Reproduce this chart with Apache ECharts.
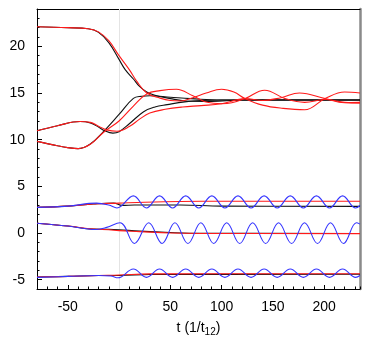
<!DOCTYPE html>
<html lang="en">
<head>
    <meta charset="UTF-8">
    <title>t (1/t12)</title>
    <script src="https://cdn.jsdelivr.net/npm/echarts@6/dist/echarts.min.js"></script>
</head>
<body style="margin:0">
<div id="main" style="width:374px;height:343px;"></div>
<script>
    // tick labels
    var xTicks = [-50, 0, 50, 100, 150, 200];
    var yTicks = [-5, 0, 5, 10, 15, 20];

    // upper group: black / red pairs, [t, value]
    var black1 = [[-80, 22.1], [-50, 22.0], [-30, 21.88], [-20, 21.5], [-10, 20.4], [0, 18.6], [6, 17.5], [14, 16.5], [20, 15.7], [27, 15.1], [35, 14.75], [50, 14.4], [65, 14.15], [90, 14.1], [120, 14.25], [235, 14.25]];
    var red1 = [[-80, 22.1], [-50, 22.0], [-30, 21.88], [-20, 21.55], [-10, 20.6], [0, 19.0], [10, 17.5], [17, 16.3], [27, 15.0], [40, 14.45], [50, 14.2], [60, 14.15], [72, 14.5], [85, 15.0], [100, 15.4], [112, 15.1], [123, 14.4], [140, 13.7], [160, 13.35], [181, 13.2], [201, 14.4], [220, 15.1], [235, 15.0]];
    var black2 = [[-80, 10.96], [-60, 11.5], [-38, 11.95], [-28, 11.8], [-20, 11.35], [-14, 10.95], [-6, 10.7], [0, 10.85], [10, 11.7], [24, 13.0], [35, 13.5], [47, 13.75], [64, 14.05], [80, 14.2], [100, 14.25], [235, 14.25]];
    var red2 = [[-80, 10.96], [-60, 11.5], [-38, 11.95], [-28, 11.85], [-20, 11.45], [-12, 11.05], [-2, 10.9], [10, 11.4], [20, 12.2], [30, 12.85], [45, 13.25], [62, 13.5], [80, 13.65], [100, 13.85], [123, 14.4], [140, 14.2], [158, 14.5], [176, 15.0], [201, 14.4], [220, 13.95], [235, 14.0]];
    var black3 = [[-80, 9.82], [-60, 9.35], [-50, 9.15], [-40, 9.04], [-28, 9.54], [-15, 10.89], [0, 12.7], [14, 14.43], [22, 14.65], [30, 14.7], [50, 14.55], [70, 14.4], [100, 14.25], [235, 14.25]];
    var red3 = [[-80, 9.82], [-60, 9.35], [-50, 9.15], [-40, 9.04], [-28, 9.5], [-15, 10.8], [0, 12.0], [14, 13.6], [27, 14.9], [40, 15.25], [56, 15.4], [72, 14.7], [86, 14.0], [100, 13.85], [110, 13.95], [123, 14.4], [142, 15.3], [162, 14.4], [181, 14.0], [201, 14.3], [220, 14.0], [235, 13.9]];

    // lower group: three bands
    var bandBlackA = [[-80, 2.75], [-50, 2.88], [-25, 3.1], [-5, 3.2], [3, 2.96], [15, 3.0], [60, 3.0], [100, 2.88], [235, 2.85]];
    var bandRedA = [[-80, 2.75], [-50, 2.88], [-25, 3.1], [0, 3.2], [25, 3.3], [60, 3.38], [100, 3.4], [235, 3.4]];
    var bandBlueA = [[-80, 2.75], [-50, 2.88], [-22, 3.2], [-10, 3.0], [-2, 2.68], [14, 3.98], [26.75, 2.68], [39.5, 3.98], [52.25, 2.68], [65, 3.98], [77.75, 2.68], [90.5, 3.98], [103.25, 2.68], [116, 3.98], [128.75, 2.68], [141.5, 3.98], [154.25, 2.68], [167, 3.98], [179.75, 2.68], [192.5, 3.98], [205.25, 2.68], [218, 3.98], [230.75, 2.68], [235, 2.95]];

    var bandBlackB = [[-80, 1.05], [-50, 0.75], [-25, 0.42], [-10, 0.4], [0, 0.35], [20, 0.2], [50, 0.05], [80, -0.03], [235, -0.05]];
    var bandRedB = [[-80, 1.05], [-50, 0.75], [-25, 0.42], [-10, 0.35], [0, 0.25], [20, 0.15], [50, 0.0], [80, -0.05], [235, -0.07]];
    var bandBlueB = [[-80, 1.05], [-50, 0.75], [-22, 0.38], [-12, 0.6], [1, 1.1], [15, -1.12], [29, 1.1], [42, -1.12], [54.5, 1.1], [67.2, -1.12], [79.8, 1.1], [92.4, -1.12], [105, 1.1], [117.7, -1.12], [130.3, 1.1], [143, -1.12], [155.6, 1.1], [168.3, -1.12], [180.9, 1.1], [193.6, -1.12], [206.2, 1.1], [218.9, -1.12], [231.5, 1.1], [235, 0.95]];

    var bandBlackC = [[-80, -4.72], [-50, -4.65], [-20, -4.55], [0, -4.55], [30, -4.45], [235, -4.42]];
    var bandRedC = [[-80, -4.72], [-50, -4.65], [-20, -4.55], [0, -4.5], [30, -4.38], [235, -4.36]];
    var bandBlueC = [[-80, -4.75], [-50, -4.65], [-20, -4.55], [-8, -4.6], [-1, -4.8], [14, -3.85], [26.75, -4.75], [39.5, -3.85], [52.25, -4.75], [65, -3.85], [77.75, -4.75], [90.5, -3.85], [103.25, -4.75], [116, -3.85], [128.75, -4.75], [141.5, -3.85], [154.25, -4.75], [167, -3.85], [179.75, -4.75], [192.5, -3.85], [205.25, -4.75], [218, -3.85], [230.75, -4.75], [235, -4.55]];

    var FONT = 'Liberation Sans';
    var myChart = echarts.init(document.getElementById('main'));

    function line(data, color, z) {
        return {
            type: 'line',
            data: data,
            smooth: 0.4,
            showSymbol: false,
            symbol: 'none',
            z: z,
            lineStyle: {color: color, width: 1.1},
            animation: false
        };
    }

    var series = [];
    [black1, black2, black3, bandBlackA, bandBlackB, bandBlackC].forEach(function (d) {
        series.push(line(d, '#111111', 3));
    });
    [red1, red2, red3, bandRedA, bandRedB, bandRedC].forEach(function (d) {
        series.push(line(d, '#ff1a1a', 4));
    });
    [bandBlueA, bandBlueB, bandBlueC].forEach(function (d) {
        series.push(line(d, '#3535ff', 5));
    });
    // faint line at t = 0
    series[0].markLine = {
        silent: true,
        symbol: 'none',
        label: {show: false},
        lineStyle: {color: '#e4e4e4', width: 1, type: 'solid'},
        data: [{xAxis: 0}],
        z: 1
    };

    option = {
        animation: false,
        grid: {left: 37, top: 9, right: 14, bottom: 54, outerBoundsMode: 'none', containLabel: false},
        xAxis: [
            {
                type: 'value', min: -80, max: 235, position: 'bottom',
                name: '{a|t (1/t}{s|12}{a|)}', nameLocation: 'middle', nameGap: 30,
                nameTextStyle: {
                    rich: {
                        a: {fontFamily: FONT, fontSize: 14, color: '#000', lineHeight: 18, verticalAlign: 'middle'},
                        s: {fontFamily: FONT, fontSize: 10, color: '#000', lineHeight: 18, verticalAlign: 'bottom'}
                    }
                },
                axisLine: {show: true, onZero: false, lineStyle: {color: '#000', width: 1}},
                axisTick: {show: true, inside: true, length: 4, customValues: xTicks, lineStyle: {color: '#000'}},
                axisLabel: {fontFamily: FONT, fontSize: 14, color: '#000', margin: 11, customValues: xTicks},
                splitLine: {show: false}
            },
            {
                type: 'value', min: -80, max: 235, interval: 10, position: 'bottom',
                axisLine: {show: false, onZero: false},
                axisTick: {show: true, inside: true, length: 2.5, lineStyle: {color: '#000'}},
                axisLabel: {show: false},
                splitLine: {show: false}
            },
            {
                type: 'value', min: -80, max: 235, position: 'top',
                axisLine: {show: true, onZero: false, lineStyle: {color: '#000', width: 1}},
                axisTick: {show: false},
                axisLabel: {show: false},
                splitLine: {show: false}
            }
        ],
        yAxis: [
            {
                type: 'value', min: -6, max: 24, position: 'left',
                axisLine: {show: true, onZero: false, lineStyle: {color: '#000', width: 1}},
                axisTick: {show: true, inside: true, length: 5, customValues: yTicks, lineStyle: {color: '#000'}},
                axisLabel: {fontFamily: FONT, fontSize: 14, color: '#000', margin: 12, customValues: yTicks},
                splitLine: {show: false}
            },
            {
                type: 'value', min: -6, max: 24, interval: 1, position: 'left',
                axisLine: {show: false, onZero: false},
                axisTick: {show: true, inside: true, length: 2.5, lineStyle: {color: '#000'}},
                axisLabel: {show: false},
                splitLine: {show: false}
            },
            {
                type: 'value', min: -6, max: 24, position: 'right',
                axisLine: {show: true, onZero: false, lineStyle: {color: '#8a8a8a', width: 2.5}},
                axisTick: {show: false},
                axisLabel: {show: false},
                splitLine: {show: false}
            }
        ],
        series: series
    };

    myChart.setOption(option);
</script>
</body>
</html>
